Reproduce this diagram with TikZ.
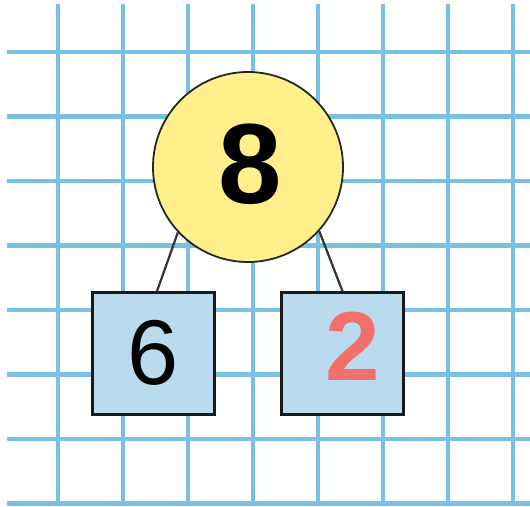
\documentclass[tikz,border=0pt]{standalone}
\usepackage{fontspec}
\setmainfont{Liberation Sans}
\definecolor{gridblue}{RGB}{122,192,228}
\definecolor{sumyellow}{RGB}{255,240,140}
\definecolor{partblue}{RGB}{186,218,238}
\definecolor{answerred}{RGB}{242,112,108}
\tikzset{
  gridline/.style={gridblue, line width=4.6pt},
  wholecircle/.style={circle, draw=black!85, line width=1.8pt, fill=sumyellow, minimum size=190pt, inner sep=0pt},
  partbox/.style={rectangle, draw=black!90, line width=2.6pt, fill=partblue, minimum size=122pt, inner sep=0pt},
  branch/.style={black!80, line width=2.2pt}
}
\begin{document}
\begin{tikzpicture}[x=1pt, y=-1pt]
        % Paper
        \useasboundingbox (0, 0) rectangle (530, 506);
        \fill[white] (0, 0) rectangle (530, 506);
        % Draw the grid
        \foreach \i in {0,...,7} {
            \draw[gridline] ({58+65*\i}, 4) -- ({58+65*\i}, 506);
            \draw[gridline] (7, {52+64.5*\i}) -- (530, {52+64.5*\i});
        }
        % The whole and its parts
        \node[wholecircle] (whole) at (248, 167) {};
        \node at (250, 164) {\fontsize{114}{114}\selectfont\bfseries 8};
        \node[partbox] (left) at (153.5, 353.5) {};
        \node[partbox] (right) at (342.5, 353.5) {};
        \node at (153, 353) {\fontsize{92}{92}\selectfont 6};
        \node[answerred] at (353, 346) {\fontsize{98}{98}\selectfont\bfseries 2};
        % Branches
        \draw[branch] (whole.-137.5) -- ([xshift=3.5pt]left.north);
        \draw[branch] (whole.-42.5) -- (right.north);
    \end{tikzpicture}
\end{document}
